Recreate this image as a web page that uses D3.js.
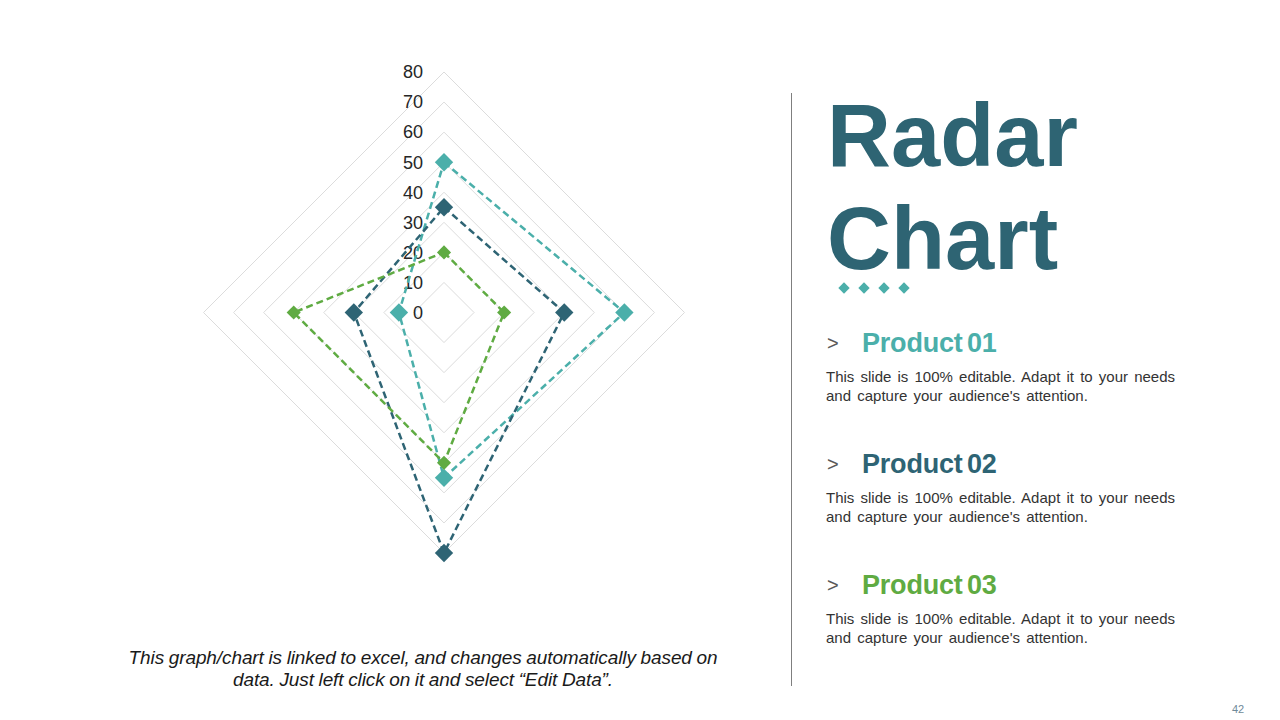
<!DOCTYPE html>
<html>
<head>
<meta charset="utf-8">
<script src="https://cdn.jsdelivr.net/npm/d3@7"></script>
<style>
  html, body { margin: 0; padding: 0; background: #fff; }
  svg { display: block; font-family: "Liberation Sans", Arial, sans-serif; }
</style>
</head>
<body>
<svg id="chart" width="1280" height="720"></svg>
<script>
// ---- Data ----
const categories = ["Axis 1", "Axis 2", "Axis 3", "Axis 4"];
const seriesNames = ["Product 01", "Product 02", "Product 03"];
const product01 = [50, 60, 55, 15];
const product02 = [35, 40, 80, 30];
const product03 = [20, 20, 50, 50];
const tickValues = [0, 10, 20, 30, 40, 50, 60, 70, 80];
const seriesColors = ["#4BAFAA", "#2E6474", "#5FAB42"];
const bodyText = ["This slide is 100% editable. Adapt it to your needs", "and capture your audience's attention."];
const footnote = ["This graph/chart is linked to excel, and changes automatically based on", "data. Just left click on it and select \u201CEdit Data\u201D."];

const series = [product01, product02, product03];

const svg = d3.select("#chart");
const cx = 444, cy = 312.5;
const r = d3.scaleLinear().domain([0, 80]).range([0, 240.5]);
const n = categories.length;
const angle = i => i * 2 * Math.PI / n;

const g = svg.append("g").attr("transform", `translate(${cx},${cy})`);

// grid rings
const ringLine = d3.lineRadial()
  .angle((d, i) => angle(i))
  .radius(d => r(d))
  .curve(d3.curveLinearClosed);

g.selectAll("path.ring")
  .data(tickValues.filter(v => v > 0))
  .join("path")
  .attr("class", "ring")
  .attr("d", v => ringLine(categories.map(() => v)))
  .attr("fill", "none")
  .attr("stroke", "#dcdcdc")
  .attr("stroke-width", 1);

// tick labels
g.selectAll("text.tick")
  .data(tickValues)
  .join("text")
  .attr("class", "tick")
  .attr("x", -21)
  .attr("y", v => -r(v))
  .attr("dy", "0.35em")
  .attr("text-anchor", "end")
  .attr("font-size", 18)
  .attr("fill", "#262626")
  .text(v => v);

// series lines
const seriesLine = d3.lineRadial()
  .angle((d, i) => angle(i))
  .radius(d => r(d))
  .curve(d3.curveLinearClosed);

series.forEach((vals, si) => {
  g.append("path")
    .attr("d", seriesLine(vals))
    .attr("fill", "none")
    .attr("stroke", seriesColors[si])
    .attr("stroke-width", 2.5)
    .attr("stroke-dasharray", "7,4");
});

const markerSize = [13, 13, 10];
series.forEach((vals, si) => {
  g.selectAll(null)
    .data(vals)
    .join("rect")
    .attr("x", -markerSize[si] / 2)
    .attr("y", -markerSize[si] / 2)
    .attr("width", markerSize[si])
    .attr("height", markerSize[si])
    .attr("fill", seriesColors[si])
    .attr("transform", (d, i) => {
      const a = angle(i);
      const x = r(d) * Math.sin(a), y = -r(d) * Math.cos(a);
      return `translate(${x},${y}) rotate(45)`;
    });
});

// footnote
svg.append("g").selectAll("text")
  .data(footnote)
  .join("text")
  .attr("x", 423)
  .attr("y", (d, i) => 664 + i * 22)
  .attr("text-anchor", "middle")
  .attr("font-size", 19)
  .attr("font-style", "italic")
  .attr("letter-spacing", -0.1)
  .attr("word-spacing", -0.5)
  .attr("fill", "#1a1a1a")
  .text(d => d);

// divider
svg.append("line")
  .attr("x1", 791.5).attr("x2", 791.5)
  .attr("y1", 93).attr("y2", 686)
  .attr("stroke", "#7f7f7f").attr("stroke-width", 1);

// title
["Radar", "Chart"].forEach((t, i) => {
  svg.append("text")
    .attr("x", 827)
    .attr("y", 166 + i * 103)
    .attr("font-size", 88.5)
    .attr("font-weight", "bold")
    .attr("fill", "#2E6473")
    .text(t);
});

// small diamonds
svg.append("g").selectAll("rect")
  .data([0, 1, 2, 3])
  .join("rect")
  .attr("x", -4).attr("y", -4).attr("width", 8).attr("height", 8)
  .attr("fill", "#4BAFAA")
  .attr("transform", d => `translate(${844 + d * 20},288) rotate(45)`);

// products
seriesNames.forEach((name, si) => {
  const y0 = 352 + si * 121;
  svg.append("text")
    .attr("x", 827).attr("y", y0 - 2)
    .attr("font-size", 20)
    .attr("fill", "#595959")
    .text(">");
  svg.append("text")
    .attr("x", 862).attr("y", y0)
    .attr("font-size", 27)
    .attr("font-weight", "bold")
    .attr("letter-spacing", -0.2)
    .attr("word-spacing", -3)
    .attr("fill", seriesColors[si])
    .text(name);
  bodyText.forEach((line, li) => {
    svg.append("text")
      .attr("x", 826).attr("y", y0 + 30 + li * 19)
      .attr("font-size", 15)
      .attr("word-spacing", 2)
      .attr("fill", "#333")
      .text(line);
  });
});

// page number
svg.append("text")
  .attr("x", 1238).attr("y", 713)
  .attr("text-anchor", "middle")
  .attr("font-size", 11)
  .attr("fill", "#6f8a99")
  .text("42");
</script>
</body>
</html>
